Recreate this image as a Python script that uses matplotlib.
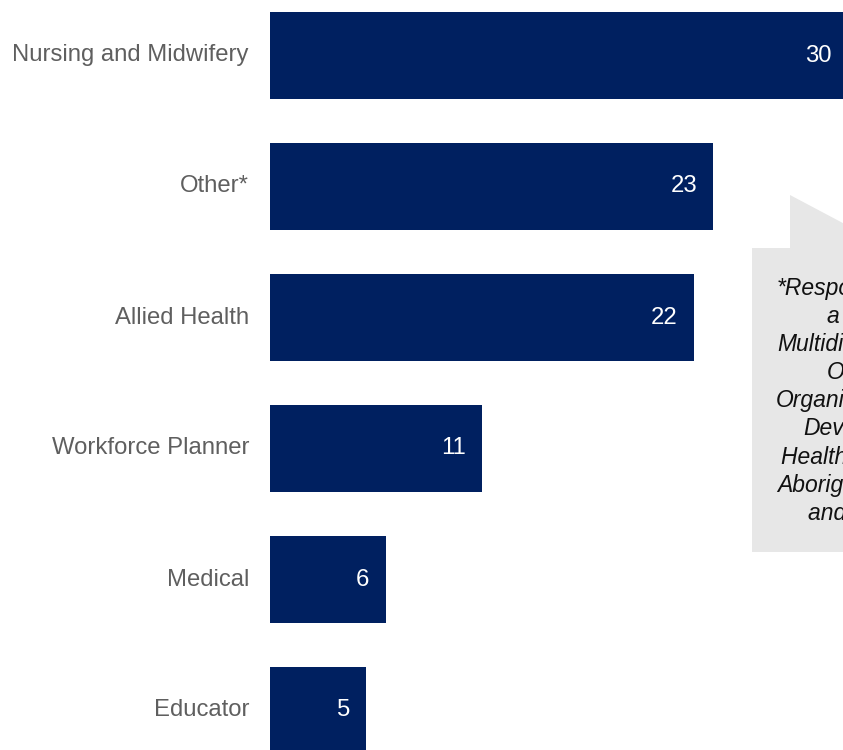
import matplotlib
matplotlib.use("Agg")
import matplotlib.pyplot as plt
from matplotlib.patches import Polygon

categories = ["Nursing and Midwifery", "Other*", "Allied Health",
              "Workforce Planner", "Medical", "Educator"]
values = [30, 23, 22, 11, 6, 5]

note_lines = ["*Respondents", "a range of", "Multidisciplinary", "Other",
              "Organisational", "Development", "Health Service",
              "Aboriginal Health", "and Dental"]

W, H = 843, 750
BAR = "#002060"
LABEL = "#5f5f5f"

plt.rcParams['font.family'] = ['Liberation Sans', 'DejaVu Sans']
fig = plt.figure(figsize=(W / 100, H / 100), dpi=100)
fig.patch.set_facecolor("white")

ax = fig.add_axes([270 / W, 0, 1 - 270 / W, 1])
pitch = 131.0
top = -55.5 / pitch
ax.set_ylim(top + H / pitch, top)
ax.set_xlim(0, (W - 270) / 19.26)

ypos = list(range(len(categories)))
ax.barh(ypos, values, height=87 / pitch, color=BAR, zorder=2)
for y, v in zip(ypos, values):
    ax.annotate(str(v), xy=(v, y), xytext=(-16 * 0.72, 0), textcoords="offset points",
                ha="right", va="center", color="white", fontsize=17.2,
                annotation_clip=False)
    ax.text(-21 / 19.26, y, categories[y], ha="right", va="center",
            color=LABEL, fontsize=17.2, clip_on=False)

ax.axis("off")

# Callout shape
pts_px = [(752, 248), (790, 248), (790, 195), (890, 248), (960, 248),
          (960, 552), (752, 552)]
pts = [(x / W, 1 - y / H) for x, y in pts_px]
fig.patches.append(Polygon(pts, closed=True, transform=fig.transFigure,
                           facecolor="#e7e7e7", edgecolor="none", zorder=1))

lefts = [777, 827, 777, 827, 776, 803, 781, 777, 808]
for i, (txt, lx) in enumerate(zip(note_lines, lefts)):
    by = 295 + 28.1 * i
    fig.text(lx / W, 1 - by / H, txt, ha="left", va="baseline",
             fontsize=16.5, style="italic", color="#111111", zorder=5)

fig.savefig("out.png", dpi=100)
